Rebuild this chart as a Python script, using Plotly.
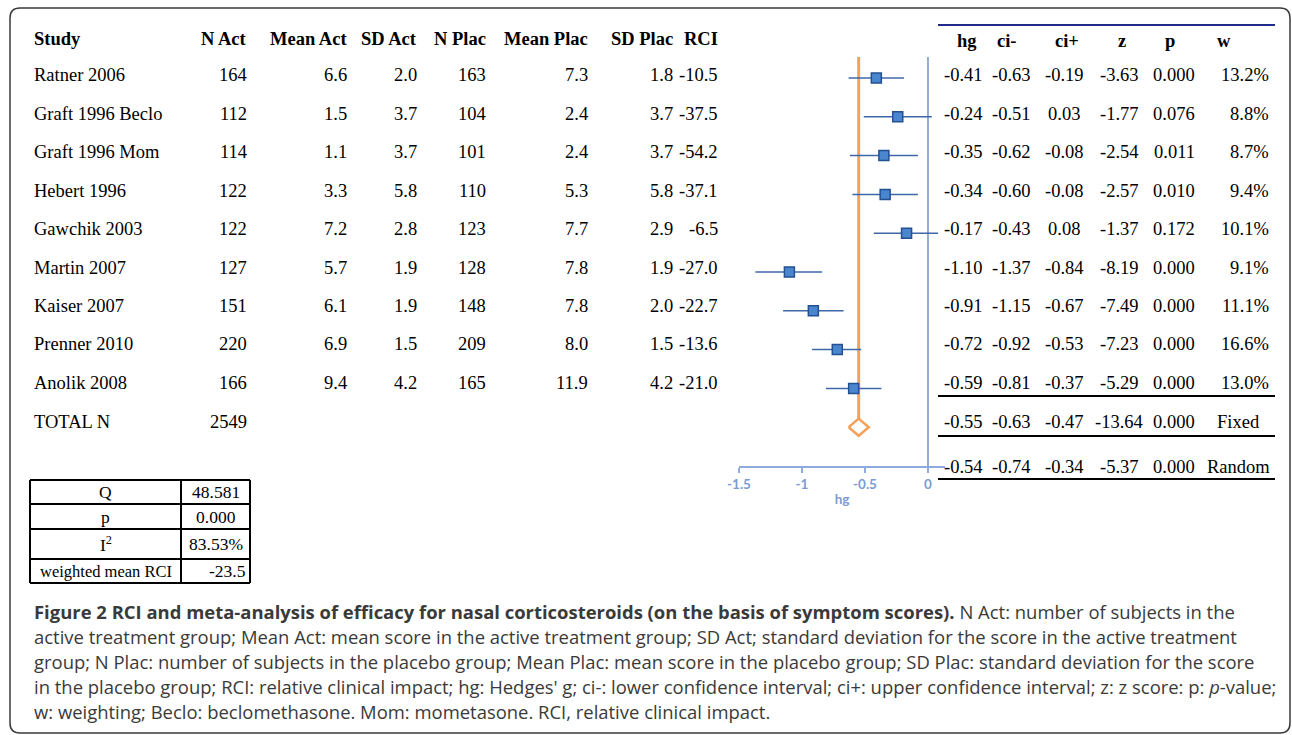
import plotly.graph_objects as go

# ---------------- data ----------------
studies = ["Ratner 2006", "Graft 1996 Beclo", "Graft 1996 Mom", "Hebert 1996", "Gawchik 2003",
           "Martin 2007", "Kaiser 2007", "Prenner 2010", "Anolik 2008"]
n_act = [164, 112, 114, 122, 122, 127, 151, 220, 166]
mean_act = [6.6, 1.5, 1.1, 3.3, 7.2, 5.7, 6.1, 6.9, 9.4]
sd_act = [2.0, 3.7, 3.7, 5.8, 2.8, 1.9, 1.9, 1.5, 4.2]
n_plac = [163, 104, 101, 110, 123, 128, 148, 209, 165]
mean_plac = [7.3, 2.4, 2.4, 5.3, 7.7, 7.8, 7.8, 8.0, 11.9]
sd_plac = [1.8, 3.7, 3.7, 5.8, 2.9, 1.9, 2.0, 1.5, 4.2]
rci = [-10.5, -37.5, -54.2, -37.1, -6.5, -27.0, -22.7, -13.6, -21.0]
total_n = 2549

hg = [-0.41, -0.24, -0.35, -0.34, -0.17, -1.10, -0.91, -0.72, -0.59]
ci_lo = [-0.63, -0.51, -0.62, -0.60, -0.43, -1.37, -1.15, -0.92, -0.81]
ci_hi = [-0.19, 0.03, -0.08, -0.08, 0.08, -0.84, -0.67, -0.53, -0.37]
z = [-3.63, -1.77, -2.54, -2.57, -1.37, -8.19, -7.49, -7.23, -5.29]
p = [0.000, 0.076, 0.011, 0.010, 0.172, 0.000, 0.000, 0.000, 0.000]
w = [13.2, 8.8, 8.7, 9.4, 10.1, 9.1, 11.1, 16.6, 13.0]

summary_labels = ["Fixed", "Random"]
summary_hg = [-0.55, -0.54]
summary_lo = [-0.63, -0.74]
summary_hi = [-0.47, -0.34]
summary_z = [-13.64, -5.37]
summary_p = [0.000, 0.000]

het_labels = ["Q", "p", "I<sup>2</sup>", "weighted mean RCI"]
het_values = ["48.581", "0.000", "83.53%", "-23.5"]

left_headers = ["Study", "N Act", "Mean Act", "SD Act", "N Plac", "Mean Plac", "SD Plac", "RCI"]
right_headers = ["hg", "ci-", "ci+", "z", "p", "w"]
axis_ticks = [-1.5, -1, -0.5, 0]
axis_ticktext = ["-1.5", "-1", "-0.5", "0"]

# ---------------- layout helpers ----------------
W, H = 1292, 735
SERIF = "Liberation Serif"
SANS = "Open Sans"


def px(x):
    return x / W


def py(y):
    return 1 - y / H


annotations = []
shapes = []


def txt(x, y, s, anchor="left", size=18.5, bold=False, family=SERIF, color="#000000"):
    annotations.append(dict(
        x=px(x), y=py(y), xref="paper", yref="paper", text=s, showarrow=False,
        xanchor=anchor, yanchor="middle", borderpad=0,
        font=dict(family=family, size=size, color=color, weight="bold" if bold else "normal"),
    ))


def hline(x0, x1, y, color="#000000", width=2):
    shapes.append(dict(type="line", xref="paper", yref="paper", x0=px(x0), x1=px(x1),
                       y0=py(y), y1=py(y), line=dict(color=color, width=width)))


def vline(x, y0, y1, color="#000000", width=2):
    shapes.append(dict(type="line", xref="paper", yref="paper", x0=px(x), x1=px(x),
                       y0=py(y0), y1=py(y1), line=dict(color=color, width=width)))


# row text positions (pixels)
header_y = 39
row_y0, row_dy = 75, 38.5
row_ys = [row_y0 + i * row_dy for i in range(len(studies))]
total_y = row_y0 + len(studies) * row_dy
random_y = 467

# left table
left_x = [33, 248, 348, 418, 487, 589, 674, 719]
for j, h in enumerate(left_headers):
    txt(left_x[j], header_y, h, anchor="left" if j == 0 else "right", bold=True)
cols = [n_act, mean_act, sd_act, n_plac, mean_plac, sd_plac, rci]
fmts = ["{:d}", "{:.1f}", "{:.1f}", "{:d}", "{:.1f}", "{:.1f}", "{:.1f}"]
for i, s in enumerate(studies):
    txt(left_x[0], row_ys[i], s)
    for j, col in enumerate(cols):
        txt(left_x[j + 1], row_ys[i], fmts[j].format(col[i]), anchor="right")
txt(left_x[0], total_y, "TOTAL N")
txt(left_x[1], total_y, str(total_n), anchor="right")

# right table
rh_x = [967, 1007, 1067, 1122, 1170, 1224]
for j, h in enumerate(right_headers):
    txt(rh_x[j], header_y + 2, h, anchor="center", bold=True)
rv_x = [964, 1011, 1064, 1119, 1174]
for i in range(len(studies)):
    vals = ["{:.2f}".format(hg[i]), "{:.2f}".format(ci_lo[i]), "{:.2f}".format(ci_hi[i]),
            "{:.2f}".format(z[i]), "{:.3f}".format(p[i])]
    for j, v in enumerate(vals):
        txt(rv_x[j], row_ys[i], v, anchor="center")
    txt(1270, row_ys[i], "{:.1f}%".format(w[i]), anchor="right")
for k, yy in enumerate([total_y, random_y]):
    vals = ["{:.2f}".format(summary_hg[k]), "{:.2f}".format(summary_lo[k]),
            "{:.2f}".format(summary_hi[k]), "{:.2f}".format(summary_z[k]),
            "{:.3f}".format(summary_p[k])]
    for j, v in enumerate(vals):
        txt(rv_x[j], yy, v, anchor="center")
    txt(1238, yy, summary_labels[k], anchor="center")

hline(938, 1275, 25, color="#1f2a8a", width=2)
hline(938, 1275, 396)
hline(938, 1275, 436)
hline(938, 1275, 479)

# heterogeneity table
tx0, tx1, tmid = 30, 250, 181
t_rows = [480, 504, 529, 559, 583]
for yy in t_rows:
    hline(tx0, tx1, yy, width=2)
for xx in [tx0, tmid, tx1]:
    vline(xx, t_rows[0], t_rows[-1], width=2)
for k in range(4):
    cy = (t_rows[k] + t_rows[k + 1]) / 2
    txt((tx0 + tmid) / 2, cy, het_labels[k], anchor="center", size=17.5 if k < 3 else 16.5)
    if k < 3:
        txt(216, cy, het_values[k], anchor="center", size=17.5)
    else:
        txt(247, cy, het_values[k], anchor="right", size=17.5)

# caption
cap_color = "#3a3a3a"
caption_lines = [
    "<b>Figure 2 RCI and meta-analysis of efficacy for nasal corticosteroids (on the basis of symptom scores).</b> N Act: number of subjects in the",
    "active treatment group; Mean Act: mean score in the active treatment group; SD Act; standard deviation for the score in the active treatment",
    "group; N Plac: number of subjects in the placebo group; Mean Plac: mean score in the placebo group; SD Plac: standard deviation for the score",
    "in the placebo group; RCI: relative clinical impact; hg: Hedges' g; ci-: lower confidence interval; ci+: upper confidence interval; z: z score: p: <i>p</i>-value;",
    "w: weighting; Beclo: beclomethasone. Mom: mometasone. RCI, relative clinical impact.",
]
cap_y0, cap_dy = 611, 25
for i, line in enumerate(caption_lines):
    txt(33, cap_y0 + i * cap_dy, line, size=18.45, family=SANS, color=cap_color)

# outer rounded frame
x0, y0, x1, y1, r = 10, 8, 1290, 733, 10
path = (f"M {px(x0 + r)},{py(y0)} L {px(x1 - r)},{py(y0)} Q {px(x1)},{py(y0)} {px(x1)},{py(y0 + r)} "
        f"L {px(x1)},{py(y1 - r)} Q {px(x1)},{py(y1)} {px(x1 - r)},{py(y1)} "
        f"L {px(x0 + r)},{py(y1)} Q {px(x0)},{py(y1)} {px(x0)},{py(y1 - r)} "
        f"L {px(x0)},{py(y0 + r)} Q {px(x0)},{py(y0)} {px(x0 + r)},{py(y0)} Z")
shapes.append(dict(type="path", xref="paper", yref="paper", path=path,
                   line=dict(color="#3a3a3a", width=1.5)))

# ---------------- forest plot ----------------
rows = list(range(1, len(studies) + 1))
sum_row = len(studies) + 1
y_top, y_bot = 0.458, 11.0
dh = 0.22

# zero line
shapes.append(dict(type="line", xref="x", yref="y", x0=0, x1=0, y0=y_top, y1=y_bot,
                   line=dict(color="#7094c8", width=1.5), layer="below"))

fig = go.Figure()
# fixed-effect reference line
fig.add_trace(go.Scatter(x=[summary_hg[0], summary_hg[0]], y=[y_top, sum_row - dh], mode="lines",
                         line=dict(color="#f4a259", width=3), hoverinfo="skip"))
# diamond (fixed effect)
fig.add_trace(go.Scatter(
    x=[summary_lo[0], summary_hg[0], summary_hi[0], summary_hg[0], summary_lo[0]],
    y=[sum_row, sum_row - dh, sum_row, sum_row + dh, sum_row],
    mode="lines", fill="toself", fillcolor="white",
    line=dict(color="#f4a259", width=2.5), hoverinfo="skip"))
# study estimates
fig.add_trace(go.Scatter(
    x=hg, y=rows, mode="markers",
    error_x=dict(type="data", symmetric=False,
                 array=[hi - h for h, hi in zip(hg, ci_hi)],
                 arrayminus=[h - lo for h, lo in zip(hg, ci_lo)],
                 width=0, thickness=1.5, color="#3f67a8"),
    marker=dict(symbol="square", size=10, color="#4a86cf", line=dict(color="#24508f", width=1.5)),
    hoverinfo="skip"))

axis_color = "#8faadc"
tick_font = dict(family="Lato", size=13.5, color="#7c9bd2", weight="bold")
fig.update_layout(
    width=W, height=H, margin=dict(l=0, r=0, t=0, b=0, autoexpand=False),
    paper_bgcolor="white", plot_bgcolor="rgba(0,0,0,0)",
    showlegend=False,
    xaxis=dict(domain=[px(739), px(945)], range=[-1.5, 0.135], tickvals=axis_ticks,
               ticktext=axis_ticktext, showgrid=False, zeroline=False, showline=True,
               linecolor=axis_color, linewidth=1.5, ticks="outside", ticklen=5,
               tickcolor=axis_color, tickwidth=1.5, tickfont=tick_font, automargin=False,
               title=dict(text="hg", font=tick_font, standoff=4), fixedrange=True),
    yaxis=dict(domain=[py(466), py(57)], range=[y_bot, y_top], visible=False, fixedrange=True,
               automargin=False),
    annotations=annotations, shapes=shapes,
)

post = ("document.documentElement.style.margin='0';document.body.style.margin='0';"
        "document.body.style.padding='0';document.body.style.overflow='hidden';"
        "var d=document.querySelector('.plotly-graph-div');"
        "if(d){d.style.position='absolute';d.style.left='0px';d.style.top='0px';}")
fig.write_html("out.html", config={"displayModeBar": False}, post_script=post)
